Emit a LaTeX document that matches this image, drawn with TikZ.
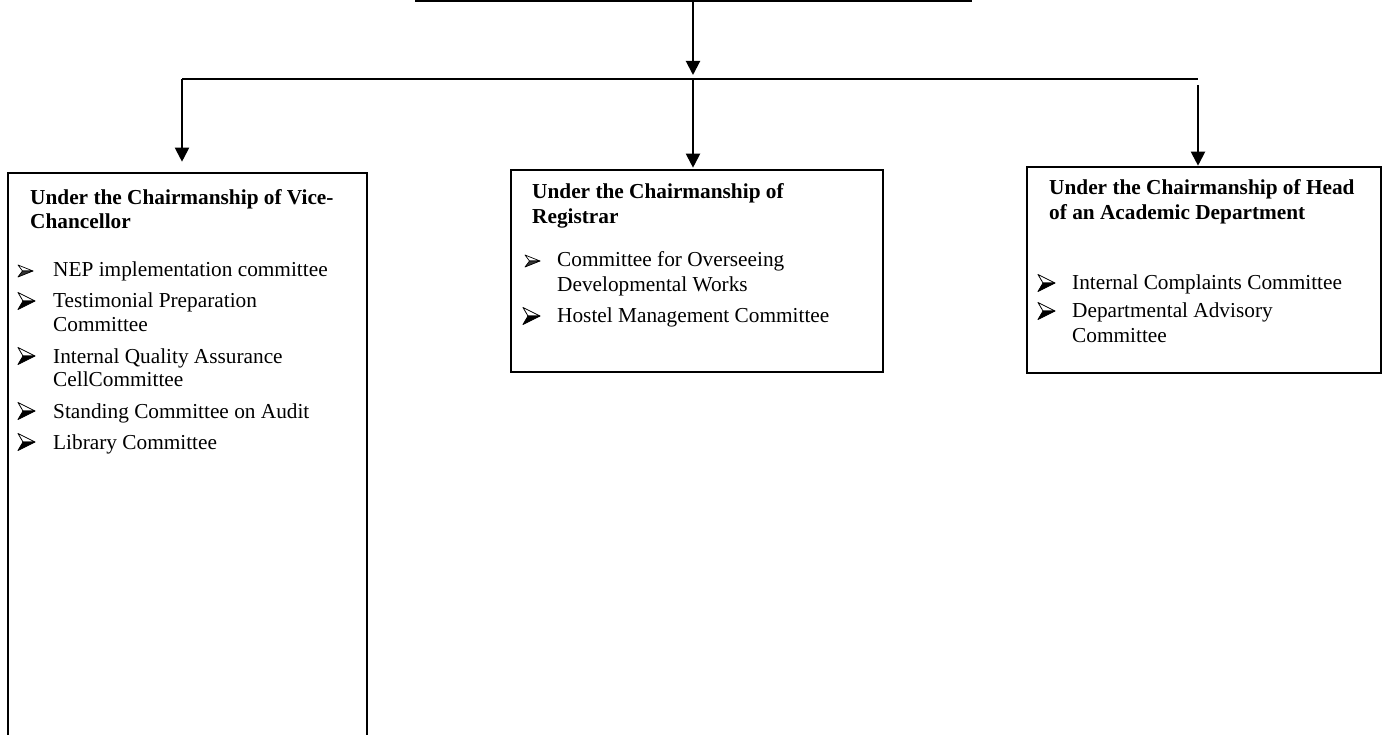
\documentclass[tikz,border=0pt]{standalone}
\usepackage{fontspec}
\setmainfont{Liberation Serif}
\usetikzlibrary{arrows.meta}
\tikzset{
  box/.style={draw, line width=2.6pt, inner sep=0pt},
  conn/.style={line width=2pt},
  arr/.style={line width=2pt, -{Triangle[width=14pt,length=14pt]}},
  txt/.style={anchor=base west, inner sep=0pt, font=\fontsize{21.3}{24}\selectfont},
  ttl/.style={txt, font=\fontsize{21.3}{24}\selectfont\bfseries},
  bulbig/.pic={
    \filldraw[fill=white, draw=black, line width=0.8pt, line join=round] (17,0) -- (0,-8.5) -- (5,0) -- cycle;
    \filldraw[fill=black, draw=black, line width=0.8pt, line join=round] (17,0) -- (5,0) -- (0,8.5) -- cycle;
  },
  bulsmall/.pic={
    \filldraw[fill=white, draw=black, line width=0.7pt, line join=round] (15,0) -- (0,-6) -- (4.5,0) -- cycle;
    \filldraw[fill=black!80, draw=black, line width=0.7pt, line join=round] (15,0) -- (4.5,0) -- (0,6) -- cycle;
  },
}
\begin{document}
\begin{tikzpicture}[x=1pt,y=-1pt]
\clip (0,0) rectangle (1385,735);
% boxes
\node[box, minimum width=359pt, minimum height=580pt] (vc) at (187.5,463) {};
\node[box, minimum width=372pt, minimum height=202pt] (reg) at (697,271) {};
\node[box, minimum width=354pt, minimum height=206pt] (hod) at (1204,270) {};
% connector coordinates
\coordinate (topL) at (415,1);
\coordinate (topR) at (972,1);
\coordinate (topM) at (693,1);
\coordinate (hL) at (182,79);
\coordinate (hM) at (693,79);
\coordinate (hR) at (1198,79);
\coordinate (hRs) at (1198,85);
\draw[line width=2.6pt] (topL) -- (topR);
\draw[arr] (topM) -- ([yshift=4pt]hM);
\draw[conn] (hL) -- (hR);
\draw[arr, shorten >=10pt] (hL) -- (hL |- vc.north);
\draw[arr, shorten >=1pt] (hM) -- (hM |- reg.north);
\draw[arr, shorten >=0pt] (hRs) -- (hR |- hod.north);
% left box text
\node[ttl] (vct1) at (30,205) {Under the Chairmanship of Vice-};
\node[ttl] (vct2) at (30,229) {Chancellor};
\pic (vcb1) at (18,271) {bulsmall};
\node[txt] (vci1) at (53,277) {NEP implementation committee};
\pic (vcb2) at (18,301) {bulbig};
\node[txt] (vci2) at (53,308) {Testimonial Preparation};
\node[txt] (vci2b) at (53,332) {Committee};
\pic (vcb3) at (18,356) {bulbig};
\node[txt] (vci3) at (53,363) {Internal Quality Assurance};
\node[txt] (vci3b) at (53,387) {CellCommittee};
\pic (vcb4) at (18,411) {bulbig};
\node[txt] (vci4) at (53,418) {Standing Committee on Audit};
\pic (vcb5) at (18,442) {bulbig};
\node[txt] (vci5) at (53,449) {Library Committee};
% middle box text
\node[ttl] (regt1) at (532,199) {Under the Chairmanship of};
\node[ttl] (regt2) at (532,224) {Registrar};
\pic (regb1) at (525,261) {bulsmall};
\node[txt] (regi1) at (557,267) {Committee for Overseeing};
\node[txt] (regi1b) at (557,292) {Developmental Works};
\pic (regb2) at (523,316) {bulbig};
\node[txt] (regi2) at (557,323) {Hostel Management Committee};
% right box text
\node[ttl] (hodt1) at (1049,195) {Under the Chairmanship of Head};
\node[ttl] (hodt2) at (1049,220) {of an Academic Department};
\pic (hodb1) at (1038,283) {bulbig};
\node[txt] (hodi1) at (1072,290) {Internal Complaints Committee};
\pic (hodb2) at (1038,311) {bulbig};
\node[txt] (hodi2) at (1072,318) {Departmental Advisory};
\node[txt] (hodi2b) at (1072,343) {Committee};
\end{tikzpicture}
\end{document}
